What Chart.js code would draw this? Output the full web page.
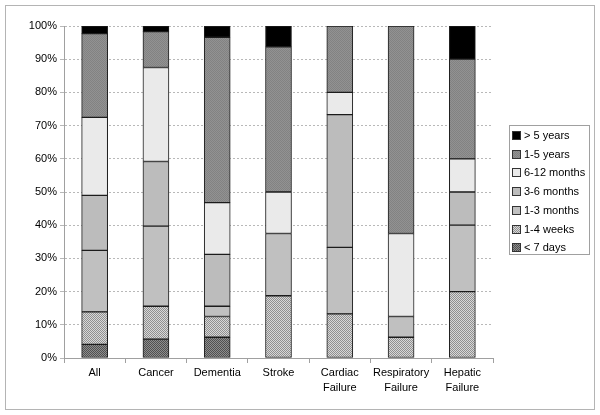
<!DOCTYPE html>
<html>
<head>
<meta charset="utf-8">
<script src="https://cdn.jsdelivr.net/npm/chart.js@4"></script>
<style>
  html, body { margin: 0; padding: 0; background: #fff; }
  #wrap { width: 600px; height: 415px; position: relative; }
</style>
</head>
<body>
<div id="wrap"><canvas id="durationChart" width="600" height="415"></canvas></div>
<script>
// categories and percentages per duration group
var categories = ['All', 'Cancer', 'Dementia', 'Stroke', ['Cardiac', 'Failure'], ['Respiratory', 'Failure'], ['Hepatic', 'Failure']];
var lessThan7Days = [4.1, 5.7, 6.25, null, null, null, null];
var weeks1to4 = [9.8, 9.9, 6.25, 18.75, 13.3, 6.25, 20];
var months1to3 = [18.5, 24.1, 3.1, 18.75, 20, 6.25, 20];
var months3to6 = [16.6, 19.5, 15.6, null, 40, null, 10];
var months6to12 = [23.5, 28.3, 15.6, 12.5, 6.7, 25, 10];
var years1to5 = [25.2, 10.8, 49.8, 43.75, 20, 62.5, 30];
var over5Years = [2.3, 1.7, 3.3, 6.25, null, null, 10];
var yTicks = [0, 10, 20, 30, 40, 50, 60, 70, 80, 90, 100];

var FONT = '"Liberation Sans", Arial, sans-serif';

// small checker patterns like the old excel fills
function checker(c1, c2) {
    var cv = document.createElement('canvas');
    cv.width = 2; cv.height = 2;
    var cx = cv.getContext('2d');
    cx.fillStyle = c1; cx.fillRect(0, 0, 2, 2);
    cx.fillStyle = c2; cx.fillRect(0, 0, 1, 1); cx.fillRect(1, 1, 1, 1);
    return cx.createPattern(cv, 'repeat');
}

var series = [
    { label: '< 7 days', data: lessThan7Days, fill: checker('#8e8e8e', '#505050') },
    { label: '1-4 weeks', data: weeks1to4, fill: checker('#d8d8d8', '#909090') },
    { label: '1-3 months', data: months1to3, fill: '#c0c0c0' },
    { label: '3-6 months', data: months3to6, fill: '#bcbcbc' },
    { label: '6-12 months', data: months6to12, fill: '#eaeaea' },
    { label: '1-5 years', data: years1to5, fill: checker('#929292', '#828282') },
    { label: '> 5 years', data: over5Years, fill: '#000000' }
];

var datasets = series.map(function (s) {
    return {
        label: s.label,
        data: s.data,
        backgroundColor: s.fill,
        borderColor: '#1c1c1c',
        borderWidth: 1,
        borderSkipped: false,
        barThickness: 26
    };
});

// frame round the whole picture + legend box on the right
var framePlugin = {
    id: 'frame',
    afterDraw: function (chart) {
        var ctx = chart.ctx;
        ctx.save();
        ctx.strokeStyle = '#b4b4b4';
        ctx.lineWidth = 1;
        ctx.strokeRect(5.5, 5.5, 589, 404);

        // legend
        ctx.strokeStyle = '#a0a0a0';
        ctx.strokeRect(509.5, 125.5, 80, 129);
        ctx.font = '11px ' + FONT;
        ctx.textBaseline = 'middle';
        ctx.fillStyle = '#000';
        var ds = chart.data.datasets;
        for (var i = ds.length - 1, k = 0; i >= 0; i--, k++) {
            var y = 136 + k * 18.7;
            ctx.fillStyle = ds[i].backgroundColor;
            ctx.fillRect(513, Math.round(y) - 4, 7, 7);
            ctx.strokeStyle = '#333';
            ctx.strokeRect(512.5, Math.round(y) - 4.5, 8, 8);
            ctx.fillStyle = '#000';
            ctx.fillText(ds[i].label, 524, y);
        }
        ctx.restore();
    }
};

var chart = new Chart(document.getElementById('durationChart').getContext('2d'), {
    type: 'bar',
    data: { labels: categories, datasets: datasets },
    plugins: [framePlugin],
    options: {
        responsive: false,
        animation: false,
        layout: { padding: { left: 0, right: 107, top: 26, bottom: 7 } },
        plugins: {
            legend: { display: false },
            tooltip: { enabled: false }
        },
        scales: {
            x: {
                stacked: true,
                grid: { drawOnChartArea: false, drawTicks: true, tickLength: 5, color: '#a0a0a0' },
                border: { color: '#a0a0a0' },
                ticks: {
                    color: '#000', padding: 3, maxRotation: 0, autoSkip: false,
                    font: { family: FONT, size: 11, lineHeight: 1.35 }
                },
                afterFit: function (scale) { scale.height = 50; }
            },
            y: {
                stacked: true,
                min: 0,
                max: 100,
                afterBuildTicks: function (scale) {
                    scale.ticks = yTicks.map(function (v) { return { value: v }; });
                },
                grid: { color: '#b8b8b8', tickLength: 4, tickBorderDash: [] },
                border: { color: '#a0a0a0', dash: [2, 2] },
                ticks: {
                    color: '#000', padding: 3,
                    font: { family: FONT, size: 11 },
                    callback: function (v) { return v + '%'; }
                },
                afterFit: function (scale) { scale.width = 64; }
            }
        }
    }
});
</script>
</body>
</html>
